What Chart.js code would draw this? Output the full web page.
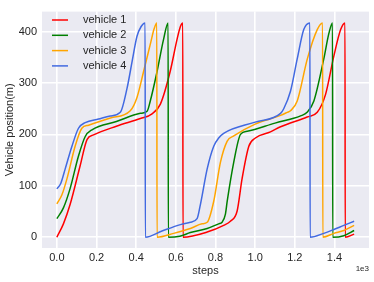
<!DOCTYPE html>
<html>
<head>
<meta charset="utf-8">
<script src="https://cdn.jsdelivr.net/npm/chart.js@4.4.1/dist/chart.umd.min.js"></script>
<style>
  body { margin: 0; background: #fff; }
</style>
</head>
<body>
<canvas id="myChart" width="374" height="282"></canvas>
<script>
// values (steps, position in m)
var v1Steps = [0, 33, 67, 118, 152, 185, 300, 421, 480, 522, 571, 606, 623, 635, 636, 758, 841, 875, 909, 934, 968, 1001, 1077, 1128, 1262, 1313, 1355, 1397, 1431, 1453, 1454, 1499];
var v1Pos   = [0, 26, 64, 140, 190, 199, 216, 231, 240, 259, 322, 385, 410, 417, 0, 10, 23, 31, 51, 114, 177, 193, 205, 215, 234, 243, 278, 353, 404, 417, 0, 6];

var v2Steps = [0, 33, 67, 109, 143, 177, 300, 421, 455, 471, 505, 538, 561, 562, 620, 673, 758, 816, 833, 850, 859, 892, 926, 960, 1100, 1229, 1262, 1296, 1346, 1372, 1390, 1391, 1447, 1499];
var v2Pos   = [36, 57, 95, 158, 196, 209, 225, 241, 245, 265, 322, 385, 417, 0, 2, 9, 17, 26, 29, 45, 70, 146, 200, 206, 222, 236, 243, 265, 347, 397, 417, 0, 3, 13];

var v3Steps = [0, 25, 51, 92, 126, 160, 270, 370, 404, 437, 474, 490, 504, 505, 589, 673, 732, 758, 791, 825, 859, 892, 1000, 1128, 1162, 1178, 1212, 1263, 1313, 1340, 1341, 1397, 1447, 1499];
var v3Pos   = [65, 82, 114, 177, 212, 218, 232, 246, 272, 322, 380, 405, 417, 0, 7.5, 17, 26, 29, 70, 146, 187, 197, 220, 237, 243, 246, 265, 347, 404, 417, 0, 7.5, 13, 23];

var v4Steps = [0, 20, 42, 76, 109, 143, 210, 269, 320, 354, 379, 404, 425, 445, 446, 530, 623, 673, 707, 724, 758, 791, 816, 841, 1000, 1128, 1144, 1178, 1212, 1245, 1276, 1277, 1346, 1397, 1447, 1499];
var v4Pos   = [94, 105, 133, 177, 212, 223, 230, 236, 243, 290, 341, 391, 410, 417, 0, 12, 24.5, 29, 36, 64, 133, 177, 193, 202, 224, 241, 250, 284, 347, 404, 417, 0, 7.5, 15, 23, 31];

var names  = ['vehicle 1', 'vehicle 2', 'vehicle 3', 'vehicle 4'];
var colors = ['#ff0000', '#008000', '#ffa500', '#4169e1'];
var xTicks = [0, 200, 400, 600, 800, 1000, 1200, 1400];
var yTicks = [0, 100, 200, 300, 400];

var textColor = '#262626';
var fontFam = '"Liberation Sans", Arial, sans-serif';

function pts(xs, ys) {
    return xs.map(function (x, i) { return {x: x, y: ys[i]}; });
}

var series = [pts(v1Steps, v1Pos), pts(v2Steps, v2Pos), pts(v3Steps, v3Pos), pts(v4Steps, v4Pos)];

var extras = {
    id: 'extras',
    beforeDraw: function (chart) {
        var a = chart.chartArea, c = chart.ctx;
        c.save();
        c.fillStyle = '#eaeaf2';
        c.fillRect(a.left, a.top, a.right - a.left, a.bottom - a.top);
        c.restore();
    },
    afterDraw: function (chart) {
        var c = chart.ctx;
        c.save();
        // legend in upper left
        c.font = '11px ' + fontFam;
        c.textBaseline = 'middle';
        names.forEach(function (n, i) {
            var y = 20 + i * 15.3;
            c.strokeStyle = colors[i];
            c.lineWidth = 1.5;
            c.beginPath();
            c.moveTo(52, y);
            c.lineTo(68, y);
            c.stroke();
            c.fillStyle = textColor;
            c.fillText(n, 83, y);
        });
        // offset text
        c.font = '8px ' + fontFam;
        c.textAlign = 'right';
        c.fillText('1e3', 369, 268.5);
        c.restore();
    }
};

var ctx = document.getElementById('myChart').getContext('2d');
var myChart = new Chart(ctx, {
    type: 'line',
    data: {
        datasets: series.map(function (d, i) {
            return {
                label: names[i],
                data: d,
                borderColor: colors[i],
                borderWidth: 1.5,
                pointRadius: 0,
                fill: false,
                cubicInterpolationMode: 'monotone',
                order: 4 - i
            };
        })
    },
    options: {
        responsive: false,
        animation: false,
        devicePixelRatio: 1,
        layout: { padding: { top: 5, right: 5, left: 0, bottom: 0 } },
        plugins: { legend: { display: false }, tooltip: { enabled: false } },
        scales: {
            x: {
                type: 'linear',
                min: -75,
                max: 1574,
                afterFit: function (s) { s.height = 34; },
                afterBuildTicks: function (s) { s.ticks = xTicks.map(function (v) { return {value: v}; }); },
                grid: { color: '#ffffff', lineWidth: 1.6, drawTicks: false },
                border: { display: false },
                ticks: {
                    padding: 3,
                    color: textColor,
                    font: { size: 11, family: fontFam },
                    maxRotation: 0,
                    callback: function (v) { return (v / 1000).toFixed(1); }
                },
                title: {
                    display: true,
                    text: 'steps',
                    color: textColor,
                    font: { size: 11, family: fontFam },
                    padding: { top: 0, bottom: 4 }
                }
            },
            y: {
                min: -21,
                max: 439,
                afterFit: function (s) { s.width = 42; },
                afterBuildTicks: function (s) { s.ticks = yTicks.map(function (v) { return {value: v}; }); },
                grid: { color: '#ffffff', lineWidth: 1.6, drawTicks: false },
                border: { display: false },
                ticks: {
                    padding: 5,
                    color: textColor,
                    font: { size: 11, family: fontFam }
                },
                title: {
                    display: true,
                    text: 'Vehicle position(m)',
                    color: textColor,
                    font: { size: 11, family: fontFam },
                    padding: { top: 3, bottom: 0 }
                }
            }
        }
    },
    plugins: [extras]
});
</script>
</body>
</html>
